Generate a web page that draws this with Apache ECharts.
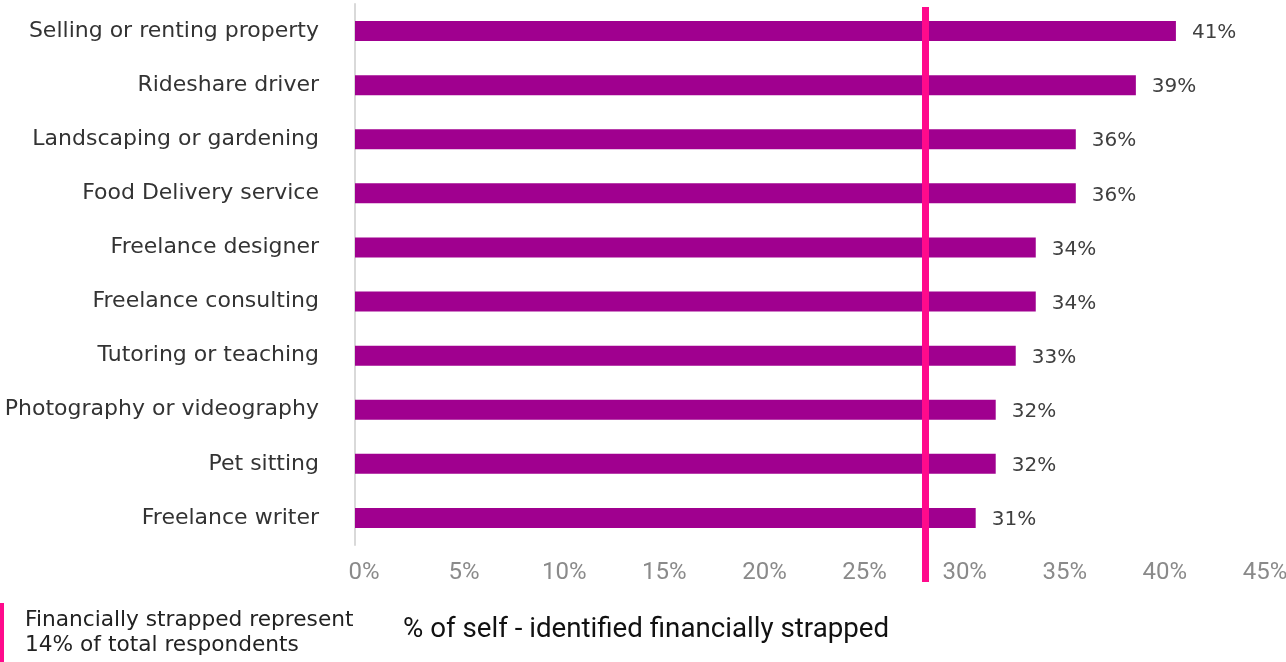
<!DOCTYPE html>
<html>
<head>
<meta charset="utf-8">
<script src="https://cdn.jsdelivr.net/npm/echarts@6/dist/echarts.min.js"></script>
<style>
  html, body { margin: 0; padding: 0; background: #fff; }
  #chart { width: 1286px; height: 662px; }
</style>
</head>
<body>
<div id="chart"></div>
<script>
var categories = [
    'Selling or renting property',
    'Rideshare driver',
    'Landscaping or gardening',
    'Food Delivery service',
    'Freelance designer',
    'Freelance consulting',
    'Tutoring or teaching',
    'Photography or videography',
    'Pet sitting',
    'Freelance writer'
];
var values = [41, 39, 36, 36, 34, 34, 33, 32, 32, 31];
var xTicks = [0, 5, 10, 15, 20, 25, 30, 35, 40, 45];
var strappedShare = 28.5; // reference line, % position on the axis

var option = {
    animation: false,
    grid: {
        left: 355,
        right: 30,
        top: 4,
        bottom: 117,
        containLabel: false,
        outerBoundsMode: 'none'
    },
    xAxis: {
        type: 'value',
        min: xTicks[0],
        max: xTicks[xTicks.length - 1],
        interval: 5,
        axisLine: { show: false },
        axisTick: { show: false },
        splitLine: { show: false },
        axisLabel: {
            formatter: '{value}%',
            color: '#8a8a8a',
            fontFamily: 'Roboto',
            fontSize: 24,
            margin: 16,
            padding: [0, 0, 0, 18]
        }
    },
    yAxis: {
        type: 'category',
        data: categories,
        inverse: true,
        axisLine: { show: true, lineStyle: { color: '#d9d9d9', width: 2 } },
        axisTick: { show: false },
        axisLabel: {
            color: '#333',
            fontFamily: 'DejaVu Sans',
            fontSize: 22,
            margin: 36
        }
    },
    series: [{
        type: 'bar',
        data: values,
        barWidth: 20,
        itemStyle: { color: '#a0008f' },
        label: {
            show: true,
            position: 'right',
            distance: 16,
            formatter: '{c}%',
            color: '#404040',
            fontFamily: 'DejaVu Sans',
            fontSize: 20,
            offset: [0, 2]
        },
        markLine: {
            silent: true,
            symbol: 'none',
            label: { show: false },
            lineStyle: { color: '#ff0a8c', width: 7, type: 'solid' },
            data: [[
                { xAxis: strappedShare, y: 7 },
                { xAxis: strappedShare, y: 582 }
            ]]
        }
    }],
    graphic: [
        {
            type: 'rect',
            left: 0,
            top: 603,
            shape: { width: 4, height: 59 },
            style: { fill: '#ff0a8c' }
        },
        {
            type: 'text',
            left: 25,
            top: 608,
            style: {
                text: 'Financially strapped represent\n14% of total respondents',
                fill: '#222',
                font: '21.7px "DejaVu Sans"',
                lineHeight: 25
            }
        },
        {
            type: 'text',
            left: 403,
            top: 616,
            style: {
                text: '% of self - identified financially strapped',
                fill: '#111',
                font: '27.7px Roboto'
            }
        }
    ]
};

var chart = echarts.init(document.getElementById('chart'));
chart.setOption(option);
</script>
</body>
</html>
